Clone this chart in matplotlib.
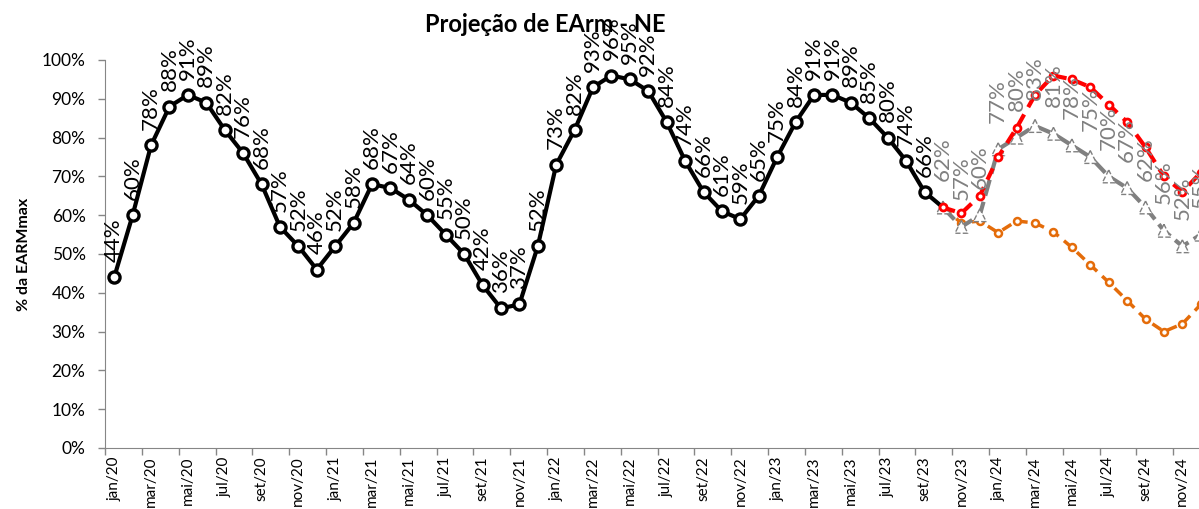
import matplotlib
matplotlib.use('Agg')
import matplotlib.pyplot as plt
from matplotlib.ticker import FixedLocator, FuncFormatter

plt.rcParams['font.family'] = ['Lato', 'DejaVu Sans']

month_names = ['jan', 'fev', 'mar', 'abr', 'mai', 'jun',
               'jul', 'ago', 'set', 'out', 'nov', 'dez']
months = [f'{m}/{y}' for y in range(20, 25) for m in month_names]

# stored energy (% EARMmax), jan/20 to out/23
earm_verificada = [44, 60, 78, 88, 91, 89, 82, 76, 68, 57, 52, 46,
                   52, 58, 68, 67, 64, 60, 55, 50, 42, 36, 37, 52,
                   73, 82, 93, 96, 95, 92, 84, 74, 66, 61, 59, 65,
                   75, 84, 91, 91, 89, 85, 80, 74, 66, 62]

# projections, out/23 to dez/24
proj_media = [62, 57, 60, 77, 80, 83, 81, 78, 75, 70, 67, 62, 56, 52, 55]
proj_alta = [62, 60.5, 65, 75, 82.5, 91, 96, 95, 93, 88.5, 84, 77.5, 70, 66, 71]
proj_baixa = [62, 58, 58.5, 55.5, 58.5, 58, 55.7, 51.7, 47.2, 42.7, 38, 33.2, 30, 32, 37]

x_hist = list(range(len(earm_verificada)))
start = len(earm_verificada) - 1
x_proj = list(range(start, start + len(proj_media)))

axis_grey = '#868686'
label_grey = '#808080'
orange = '#E46C0A'

fig = plt.figure(figsize=(11.99, 5.09), dpi=100)
ax = fig.add_axes([105 / 1199, 61 / 509, 1105 / 1199, 388 / 509])

# pessimistic projection
ax.plot(x_proj, proj_baixa, color=orange, lw=2.5, dashes=(3, 2),
        marker='o', ms=5, mfc='white', mec=orange, mew=1.8, zorder=3)

# average projection: dashed line, hollow dashed triangles
ax.plot(x_proj, proj_media, color=label_grey, lw=3, dashes=(4, 1.5), zorder=4)
ax.scatter(x_proj, proj_media, marker='^', s=85, facecolors='white',
           edgecolors=label_grey, linewidths=1, linestyles='--', zorder=5)

# high projection
ax.plot(x_proj, proj_alta, color='red', lw=3, dashes=(3, 2),
        marker='o', ms=5, mfc='white', mec='red', mew=2, zorder=6)

# verified series
ax.plot(x_hist, earm_verificada, color='black', lw=3, marker='o', ms=8,
        mfc='white', mec='black', mew=2.4, markevery=list(range(len(x_hist) - 1)),
        zorder=3.5)

for x, v in zip(x_hist[:-1], earm_verificada[:-1]):
    ax.annotate(f'{v:.0f}%', (x, v), xytext=(0, 11), textcoords='offset points',
                rotation=90, ha='center', va='bottom', fontsize=16,
                color='black', zorder=8, annotation_clip=False)

for x, v in zip(x_proj, proj_media):
    ax.annotate(f'{v:.0f}%', (x, v), xytext=(0, 19), textcoords='offset points',
                rotation=90, ha='center', va='bottom', fontsize=16,
                color=label_grey, zorder=8, annotation_clip=False)

ax.set_xlim(-0.5, len(months) - 0.5)
ax.set_ylim(0, 100)
ax.set_yticks(range(0, 101, 10))
ax.yaxis.set_major_formatter(FuncFormatter(lambda v, p: f'{v:.0f}%'))

# tick marks on category boundaries, labels on odd months
ax.xaxis.set_major_locator(FixedLocator([i - 0.5 for i in range(0, len(months) + 1, 2)]))
ax.xaxis.set_minor_locator(FixedLocator(list(range(0, len(months), 2))))
ax.set_xticklabels([])
ax.set_xticklabels(months[::2], minor=True, rotation=90)
ax.tick_params(axis='x', which='major', length=5, color=axis_grey, width=1)
ax.tick_params(axis='x', which='minor', length=0, pad=6, labelsize=11)
ax.tick_params(axis='y', length=5, color=axis_grey, width=1, pad=9, labelsize=12.5)

for side in ['top', 'right']:
    ax.spines[side].set_visible(False)
for side in ['left', 'bottom']:
    ax.spines[side].set_color(axis_grey)

ax.set_ylabel('% da EARMmax', fontsize=11.5, fontweight='bold', labelpad=8)
fig.text(545 / 1199, 1 - 24 / 509, 'Projeção de EArm - NE', ha='center',
         va='center', fontsize=17, fontweight='bold', zorder=1)

fig.savefig('out.png', dpi=100)
